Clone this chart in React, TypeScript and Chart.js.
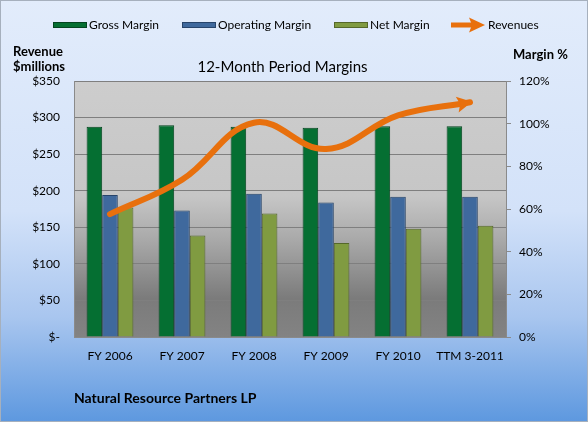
import React, { useEffect, useRef } from "react";
import { Chart, registerables } from "chart.js";

Chart.register(...registerables);

const categories = ["FY 2006", "FY 2007", "FY 2008", "FY 2009", "FY 2010", "TTM 3-2011"];
const grossMargin = [98.6, 99.3, 98.6, 98.1, 98.8, 98.8];
const operatingMargin = [66.6, 59.3, 67.2, 63.0, 65.8, 65.8];
const netMargin = [60.7, 47.6, 57.9, 44.1, 50.7, 52.2];
const revenues = [168, 215, 293, 257, 303, 321];

const chartTitle = "12-Month Period Margins";
const leftTitle = ["Revenue", "$millions"];
const rightTitle = "Margin %";
const footer = "Natural Resource Partners LP";

const FONT = "Lato, 'Open Sans', sans-serif";
const GREEN = "#056f32";
const BLUE = "#3f699d";
const OLIVE = "#809b41";
const ORANGE = "#e8700d";

const decorPlugin = {
  id: "decor",
  beforeDraw(chart: any) {
    const { ctx, width, height, chartArea } = chart;
    ctx.save();
    const g = ctx.createLinearGradient(0, 0, 0, height);
    g.addColorStop(0, "#e2ecfb");
    g.addColorStop(0.5, "#d3e2f9");
    g.addColorStop(0.75, "#a9c6ef");
    g.addColorStop(1, "#5d98df");
    ctx.fillStyle = g;
    ctx.fillRect(0, 0, width, height);
    ctx.strokeStyle = "#a6b0bd";
    ctx.lineWidth = 1;
    ctx.strokeRect(0.5, 0.5, width - 1, height - 1);
    const { left, top, right, bottom } = chartArea;
    const pg = ctx.createLinearGradient(0, top, 0, bottom);
    pg.addColorStop(0, "#cdcdcd");
    pg.addColorStop(0.45, "#c6c6c6");
    pg.addColorStop(0.62, "#a9a9a9");
    pg.addColorStop(0.85, "#7b7b7b");
    pg.addColorStop(1, "#838383");
    ctx.fillStyle = pg;
    ctx.fillRect(left, top, right - left, bottom - top);
    ctx.restore();
  },
  afterDatasetsDraw(chart: any) {
    const meta = chart.getDatasetMeta(3);
    const pts = meta.data;
    if (!pts || !pts.length) return;
    const p = pts[pts.length - 1];
    const px = p.cp1x ?? pts[pts.length - 2].x;
    const py = p.cp1y ?? pts[pts.length - 2].y;
    let dx = p.x - px;
    let dy = p.y - py;
    const len = Math.hypot(dx, dy) || 1;
    dx /= len;
    dy /= len;
    const tipX = p.x + dx * 2;
    const tipY = p.y + dy * 2;
    const L = 15;
    const W = 8;
    const bx = tipX - dx * L;
    const by = tipY - dy * L;
    const { ctx } = chart;
    ctx.save();
    ctx.fillStyle = ORANGE;
    ctx.beginPath();
    ctx.moveTo(tipX, tipY);
    ctx.lineTo(bx - dy * W, by + dx * W);
    ctx.lineTo(bx + dx * 3, by + dy * 3);
    ctx.lineTo(bx + dy * W, by - dx * W);
    ctx.closePath();
    ctx.fill();
    ctx.restore();
  },
  afterDraw(chart: any) {
    const { ctx } = chart;
    ctx.save();
    ctx.textBaseline = "middle";
    ctx.fillStyle = "#000";
    // legend
    const items = [
      { x: 53, color: GREEN, border: "#03441f", label: "Gross Margin" },
      { x: 182, color: BLUE, border: "#27446a", label: "Operating Margin" },
      { x: 334, color: OLIVE, border: "#55682a", label: "Net Margin" },
    ];
    ctx.font = `12px ${FONT}`;
    items.forEach((it) => {
      ctx.fillStyle = it.color;
      ctx.fillRect(it.x, 22, 34, 6);
      ctx.strokeStyle = it.border;
      ctx.lineWidth = 1;
      ctx.strokeRect(it.x + 0.5, 22.5, 33, 5);
      ctx.fillStyle = "#000";
      ctx.fillText(it.label, it.x + 36, 25);
    });
    // arrow legend
    ctx.strokeStyle = ORANGE;
    ctx.lineWidth = 5;
    ctx.beginPath();
    ctx.moveTo(451, 25);
    ctx.lineTo(473, 25);
    ctx.stroke();
    ctx.fillStyle = ORANGE;
    ctx.beginPath();
    ctx.moveTo(485, 25);
    ctx.lineTo(469, 17.5);
    ctx.lineTo(472, 25);
    ctx.lineTo(469, 32.5);
    ctx.closePath();
    ctx.fill();
    ctx.fillStyle = "#000";
    ctx.fillText("Revenues", 488, 25);
    // title
    ctx.font = `15px ${FONT}`;
    ctx.textAlign = "center";
    ctx.fillText(chartTitle, 282.5, 67);
    // axis titles
    ctx.font = `bold 13px ${FONT}`;
    ctx.textAlign = "left";
    ctx.fillText(leftTitle[0], 13, 52);
    ctx.fillText(leftTitle[1], 13, 67);
    ctx.fillText(rightTitle, 513, 55);
    // footer
    ctx.font = `bold 14px ${FONT}`;
    ctx.fillText(footer, 74, 398);
    ctx.restore();
  },
};

export default function App() {
  const ref = useRef<HTMLCanvasElement | null>(null);
  useEffect(() => {
    if (!ref.current) return;
    const chart = new Chart(ref.current, {
      type: "bar",
      data: {
        labels: categories,
        datasets: [
          {
            type: "bar",
            label: "Gross Margin",
            data: grossMargin,
            backgroundColor: GREEN,
            borderColor: "#03441f",
            borderWidth: 1,
            yAxisID: "y1",
            order: 1,
          },
          {
            type: "bar",
            label: "Operating Margin",
            data: operatingMargin,
            backgroundColor: BLUE,
            borderColor: "#27446a",
            borderWidth: 1,
            yAxisID: "y1",
            order: 1,
          },
          {
            type: "bar",
            label: "Net Margin",
            data: netMargin,
            backgroundColor: OLIVE,
            borderColor: "#55682a",
            borderWidth: 1,
            yAxisID: "y1",
            order: 1,
          },
          {
            type: "line",
            label: "Revenues",
            data: revenues,
            borderColor: ORANGE,
            borderWidth: 6,
            borderCapStyle: "round",
            tension: 0.4,
            pointRadius: 0,
            fill: false,
            yAxisID: "y",
            order: 0,
          } as any,
        ],
      },
      options: {
        responsive: false,
        animation: false,
        layout: { padding: { top: 81, left: 0, right: 0, bottom: 0 } },
        plugins: {
          legend: { display: false },
          title: { display: false },
          tooltip: { enabled: false },
        },
        datasets: {
          bar: { categoryPercentage: 0.65, barPercentage: 1.0 },
        },
        scales: {
          x: {
            grid: { display: false },
            border: { display: true, color: "#8a8a8a" },
            ticks: { color: "#000", font: { family: FONT, size: 12 }, padding: 4, maxRotation: 0 },
            afterFit(scale: any) {
              scale.height = 85;
            },
          },
          y: {
            position: "left",
            min: 0,
            max: 350,
            grid: { color: "#7f7f7f", drawTicks: false, lineWidth: 1 },
            border: { display: true, color: "#8a8a8a" },
            ticks: {
              stepSize: 50,
              color: "#000",
              padding: 14,
              font: { family: FONT, size: 12 },
              callback: (v: any) => (v === 0 ? "$-" : "$" + v),
            },
            afterFit(scale: any) {
              scale.width = 74;
            },
          },
          y1: {
            position: "right",
            min: 0,
            max: 120,
            grid: { drawOnChartArea: false, drawTicks: true, tickLength: 5, color: "#8a8a8a" },
            border: { display: true, color: "#8a8a8a" },
            ticks: {
              stepSize: 20,
              color: "#000",
              padding: 8,
              font: { family: FONT, size: 12 },
              callback: (v: any) => v + "%",
            },
            afterFit(scale: any) {
              scale.width = 82;
            },
          },
        },
      },
      plugins: [decorPlugin],
    });
    return () => chart.destroy();
  }, []);
  return (
    <div style={{ position: "absolute", left: 0, top: 0, width: 588, height: 422 }}>
      <canvas ref={ref} width={588} height={422} style={{ display: "block" }} />
    </div>
  );
}
